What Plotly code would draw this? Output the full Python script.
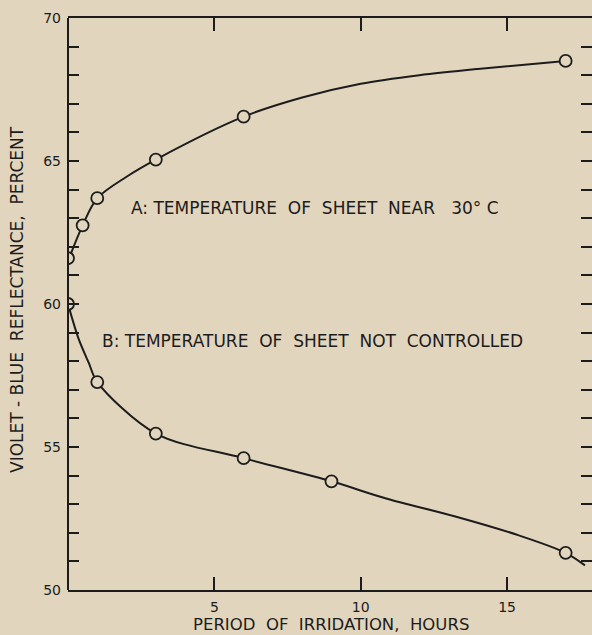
import plotly.graph_objects as go

# Measured points (open circles)
hours_a = [0, 0.5, 1, 3, 6, 17]
refl_a = [61.6, 62.75, 63.7, 65.05, 66.55, 68.5]
hours_b = [0, 1, 3, 6, 9, 17]
refl_b = [60.0, 57.27, 55.47, 54.61, 53.8, 51.3]

# Smooth curves
curve_a_x = [0, 0.5, 1, 2, 3, 6, 8, 10, 12, 14, 17]
curve_a_y = [61.5, 62.75, 63.7, 64.45, 65.05, 66.55, 67.22, 67.7, 68.0, 68.22, 68.5]
curve_b_x = [0, 0.37, 0.71, 1, 3, 6, 9, 10.9, 13.2, 15.4, 17, 17.66]
curve_b_y = [60.0, 58.76, 57.94, 57.27, 55.47, 54.61, 53.8, 53.19, 52.58, 51.91, 51.3, 50.86]

y_ticks = list(range(50, 71))
y_text = [str(v) if v % 5 == 0 else "" for v in y_ticks]
x_ticks = [5, 10, 15]
x_text = ["5", "10", "15"]

NB = "\u00a0"
label_a = f"A:{NB}TEMPERATURE{NB*2}OF{NB*2}SHEET{NB*2}NEAR{NB*3}30°{NB}C"
label_b = f"B:{NB}TEMPERATURE{NB*2}OF{NB*2}SHEET{NB*2}NOT{NB*2}CONTROLLED"
x_title = f"PERIOD{NB*2}OF{NB*2}IRRIDATION,{NB*2}HOURS"
y_title = f"VIOLET{NB}-{NB}BLUE{NB*2}REFLECTANCE,{NB*2}PERCENT"

BG = "#e2d5bd"
INK = "#1c1c1c"
FONT = "DejaVu Sans"

W, H = 592, 635
L, R, T, B = 68, 0, 18, 45
PW, PH = W - L - R, H - T - B

fig = go.Figure()
for cx, cy in [(curve_a_x, curve_a_y), (curve_b_x, curve_b_y)]:
    fig.add_trace(go.Scatter(x=cx, y=cy, mode="lines",
                             line=dict(color=INK, width=2, shape="spline", smoothing=0.9),
                             hoverinfo="skip", showlegend=False))
for px, py in [(hours_a, refl_a), (hours_b, refl_b)]:
    fig.add_trace(go.Scatter(x=px, y=py, mode="markers",
                             marker=dict(symbol="circle", size=12, color=BG,
                                         line=dict(color=INK, width=1.8)),
                             showlegend=False))

fig.add_annotation(x=2.08, y=63.37, xref="x", yref="y", text=label_a, showarrow=False,
                   xanchor="left", yanchor="middle", font=dict(family=FONT, size=17, color=INK))
fig.add_annotation(x=1.09, y=58.7, xref="x", yref="y", text=label_b, showarrow=False,
                   xanchor="left", yanchor="middle", font=dict(family=FONT, size=17, color=INK))
fig.add_annotation(x=(331 - L) / PW, y=(H - B - 624) / PH, xref="paper", yref="paper",
                   text=x_title, showarrow=False, xanchor="center", yanchor="middle",
                   font=dict(family=FONT, size=16.5, color=INK))
fig.add_annotation(x=(17 - L) / PW, y=1 - (300 - T) / PH, xref="paper", yref="paper",
                   text=y_title, showarrow=False, textangle=-90, xanchor="center", yanchor="middle",
                   font=dict(family=FONT, size=17, color=INK))

# left axis line (right side of frame has ticks only, no visible line)
fig.add_shape(type="line", xref="paper", yref="paper", x0=0, x1=0, y0=0, y1=1,
              line=dict(color=INK, width=2), layer="above")

fig.update_layout(
    width=W, height=H,
    margin=dict(l=L, r=R, t=T, b=B),
    paper_bgcolor=BG, plot_bgcolor=BG,
    font=dict(family=FONT, size=14, color=INK),
    showlegend=False,
)
fig.update_xaxes(range=[0, 17.9], showgrid=False, zeroline=False,
                 showline=True, linecolor=INK, linewidth=2, mirror="ticks",
                 ticks="inside", ticklen=13, tickwidth=1.5, tickcolor=INK,
                 tickvals=x_ticks, ticktext=x_text, ticklabelstandoff=3,
                 tickfont=dict(family=FONT, size=14, color=INK))
fig.update_yaxes(range=[50, 70], showgrid=False, zeroline=False,
                 showline=False, mirror="ticks",
                 ticks="inside", ticklen=11, tickwidth=1.5, tickcolor=INK,
                 tickvals=y_ticks, ticktext=y_text, ticklabelstandoff=6,
                 tickfont=dict(family=FONT, size=14, color=INK))

fig.write_html("out.html",
               config={"displayModeBar": False},
               post_script="document.body.style.margin='0';"
                           "document.body.style.background='#e2d5bd';")
